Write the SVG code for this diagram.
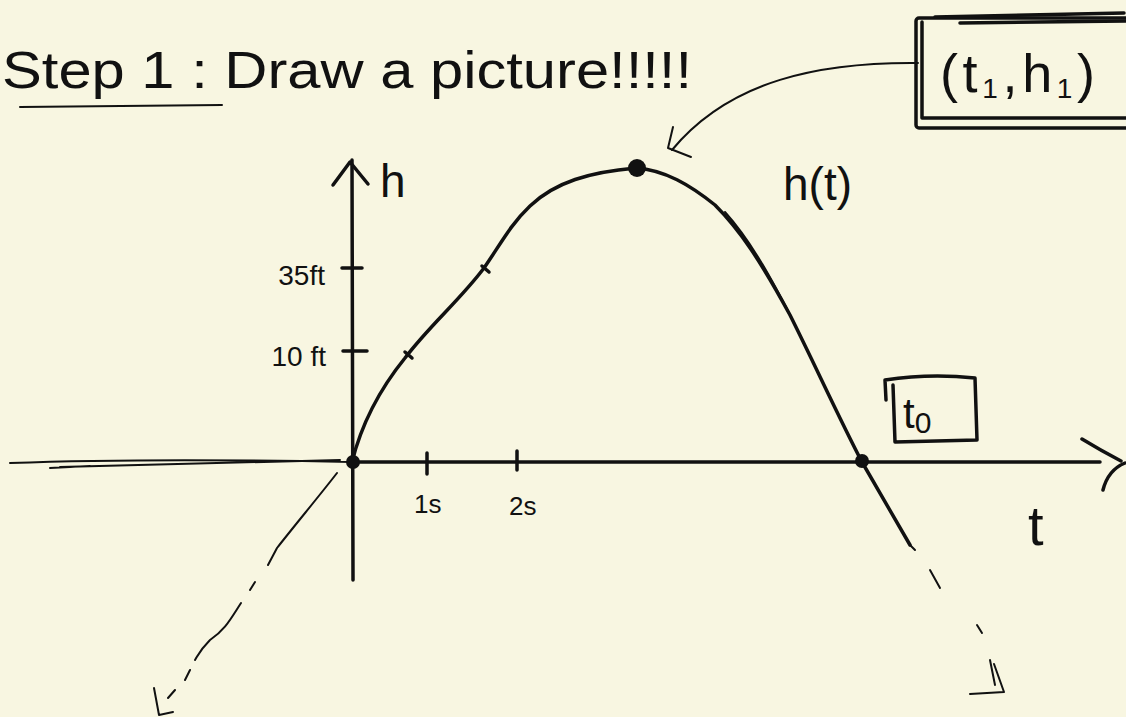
<svg xmlns="http://www.w3.org/2000/svg" width="1126" height="717" viewBox="0 0 1126 717">
<style>
.ink{fill:none;stroke:#111;stroke-width:3.5;stroke-linecap:round;stroke-linejoin:round}
.thin{fill:none;stroke:#111;stroke-width:2;stroke-linecap:round;stroke-linejoin:round}
.hand{font-family:"Liberation Sans","DejaVu Sans",sans-serif;fill:#111;font-weight:normal}
.dot{fill:#111}
</style>
<rect width="1126" height="717" fill="#f8f6e1"/>
<g id="title">
<text class="hand" x="2" y="88" font-size="52" textLength="690" lengthAdjust="spacingAndGlyphs">Step 1 : Draw a picture!!!!!</text>
<path class="thin" d="M20,107 L222,105"/>
</g>
<g id="axes">
<path class="ink" d="M352,160 L353,580"/>
<path class="ink" d="M333,185 L350,162 L368,184"/>
<path class="ink" d="M352,462 L1100,462"/>
<path class="thin" d="M10,463 Q150,458 352,462 M60,467 Q200,463 340,460 M50,468 L90,466"/>
<path class="ink" d="M1082,439 Q1100,450 1121,461 M1103,490 Q1108,470 1125,463"/>
<path class="ink" d="M342,268 L362,268 M343,351 L367,351"/>
<path class="ink" d="M427,453 L427,474 M517,451 L517,470"/>
</g>
<g id="labels">
<text class="hand" x="380" y="197" font-size="46">h</text>
<text class="hand" x="325" y="285" font-size="28" text-anchor="end">35ft</text>
<text class="hand" x="326" y="366" font-size="28" text-anchor="end">10 ft</text>
<text class="hand" x="414" y="513" font-size="26">1s</text>
<text class="hand" x="509" y="515" font-size="26">2s</text>
<text class="hand" x="783" y="200" font-size="46">h(t)</text>
<text class="hand" x="1028" y="545" font-size="56">t</text>
</g>
<g id="curve">
<path class="ink" d="M352,462 C360,430 375,395 405,358 C430,325 460,300 484,268 C500,245 510,225 530,206 C555,182 590,172 636,168 C665,170 690,185 715,205 C740,230 760,260 790,315 C815,365 840,420 862,462 L910,545"/>
<path class="thin" d="M725,212 C750,240 770,275 795,325"/>
<path class="ink" d="M405,352 L412,358 M482,266 L489,272"/>
<circle class="dot" cx="353" cy="462" r="7"/>
<circle class="dot" cx="637" cy="168" r="9"/>
<circle class="dot" cx="862" cy="461" r="7"/>
</g>
<g id="extensions">
<path class="thin" d="M337,473 C320,495 295,525 277,548 L268,565"/>
<path class="thin" d="M255,582 L250,590 M241,603 C230,620 225,630 210,640 C200,650 198,655 195,660 M190,670 L185,680 M175,690 L168,698"/>
<path class="thin" d="M154,688 L159,715 L173,712"/>
<path class="thin" d="M910,545 L915,550 M930,570 L940,588 M977,625 L982,633"/>
<path class="thin" d="M990,660 L995,685 M994,664 L1004,692 L970,694"/>
</g>
<g id="peak-label">
<rect class="ink" x="916" y="18" width="215" height="110" rx="3"/>
<path class="ink" d="M935,17 L1124,13 M922,22 L922,118 L1126,118 M960,23 L1126,21"/>
<text class="hand" x="940" y="92" font-size="54" textLength="155" lengthAdjust="spacing">(t<tspan font-size="28" dy="6">1</tspan><tspan dy="-6">,h</tspan><tspan font-size="28" dy="6">1</tspan><tspan dy="-6">)</tspan></text>
</g>
<g id="t0-label">
<path class="ink" d="M885,380 Q930,373 975,378 L977,440 L895,442 L893,385 M885,380 L886,400"/>
<text class="hand" x="903" y="428" font-size="42">t<tspan font-size="30" dy="5">0</tspan></text>
</g>
<g id="connectors">
<path class="thin" d="M918,63 C820,62 730,80 672,150"/>
<path class="thin" d="M673,127 L668,148 L691,157"/>
</g>
</svg>
